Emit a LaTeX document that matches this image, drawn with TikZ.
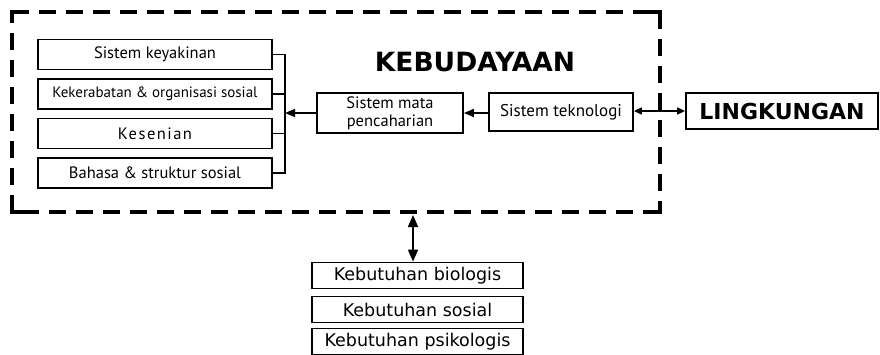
\documentclass[tikz,border=0pt]{standalone}
\usepackage{fontspec}
\setmainfont{PT Sans}
\newfontfamily\vfont{DejaVu Sans}
\newfontfamily\hfont{DejaVu Sans}
\newfontfamily\spfont[LetterSpace=9]{PT Sans}
\usetikzlibrary{arrows.meta}
\begin{document}
\begin{tikzpicture}[x=1pt,y=-1pt,
  box/.style={draw,line width=1.8pt,inner sep=0pt,align=center},
  lbox/.style={box,minimum width=234pt,minimum height=30pt,font=\fontsize{16.5}{18}\selectfont},
  mbox/.style={box,font=\fontsize{16.5}{18}\selectfont},
  kbox/.style={box,minimum width=211pt,minimum height=26pt,font=\vfont\fontsize{17.5}{18}\selectfont},
  frame/.style={line width=4.5pt,dash pattern=on 17pt off 10pt},
  conn/.style={line width=1.6pt},
  tip/.style={-{Triangle[length=10pt,width=8pt]}},
  dtip/.style={{Triangle[length=8pt,width=7pt]}-{Triangle[length=8pt,width=7pt]}},
  vtip/.style={{Triangle[length=12pt,width=10pt]}-{Triangle[length=12pt,width=10pt]}}]
\useasboundingbox (0,0) rectangle (880,354);
% frame
\draw[frame] (12,12) -- (660,12);
\draw[frame] (660,12) -- (660,212);
\draw[frame] (660,212) -- (12,212);
\draw[frame] (12,212) -- (12,12);
\draw[line width=4.5pt] (12,22) -- (12,12) -- (22,12);
\draw[line width=4.5pt] (650,12) -- (660,12) -- (660,22);
\draw[line width=4.5pt] (660,202) -- (660,212) -- (650,212);
\draw[line width=4.5pt] (22,212) -- (12,212) -- (12,202);
% title
\node (title) at (475,62) {\hfont\bfseries\fontsize{26.5}{28}\selectfont KEBUDAYAAN};
% left boxes
\node[lbox] (b1) at (155,54.5) {Sistem keyakinan};
\node[lbox] (b2) at (155,94) {\fontsize{15}{18}\selectfont Kekerabatan \& organisasi sosial};
\node[lbox] (b3) at (155,133.5) {\spfont Kesenian};
\node[lbox] (b4) at (155,173) {Bahasa \& struktur sosial};
\coordinate (bx) at (285,113);
\draw[conn] (b1.east) -- (b1.east -| bx) -- (b4.east -| bx) -- (b4.east);
\draw[conn] (b2.east) -- (b2.east -| bx);
\draw[conn] (b3.east) -- (b3.east -| bx);
% middle
\node[mbox,minimum width=146pt,minimum height=40pt] (mata) at (390,113) {Sistem mata\\pencaharian};
\node[mbox,minimum width=144pt,minimum height=38pt,font=\fontsize{17}{18}\selectfont] (tek) at (561,112) {Sistem teknologi};
\draw[conn,tip] (mata.west) -- (bx);
\draw[conn,tip] (tek.west |- mata) -- (mata.east);
% lingkungan
\node[box,minimum width=192pt,minimum height=36pt,font=\hfont\bfseries\fontsize{22}{24}\selectfont] (ling) at (782,111) {LINGKUNGAN};
\draw[conn,dtip] (tek.east |- ling) -- (ling.west);
% bottom
\node[kbox] (k1) at (417.5,275.5) {Kebutuhan biologis};
\node[kbox] (k2) at (417.5,309.5) {Kebutuhan sosial};
\node[kbox] (k3) at (417.5,341.5) {Kebutuhan psikologis};
\coordinate (fb) at (413,215);
\draw[conn,vtip] (fb) -- (k1.north -| fb);
\end{tikzpicture}
\end{document}
